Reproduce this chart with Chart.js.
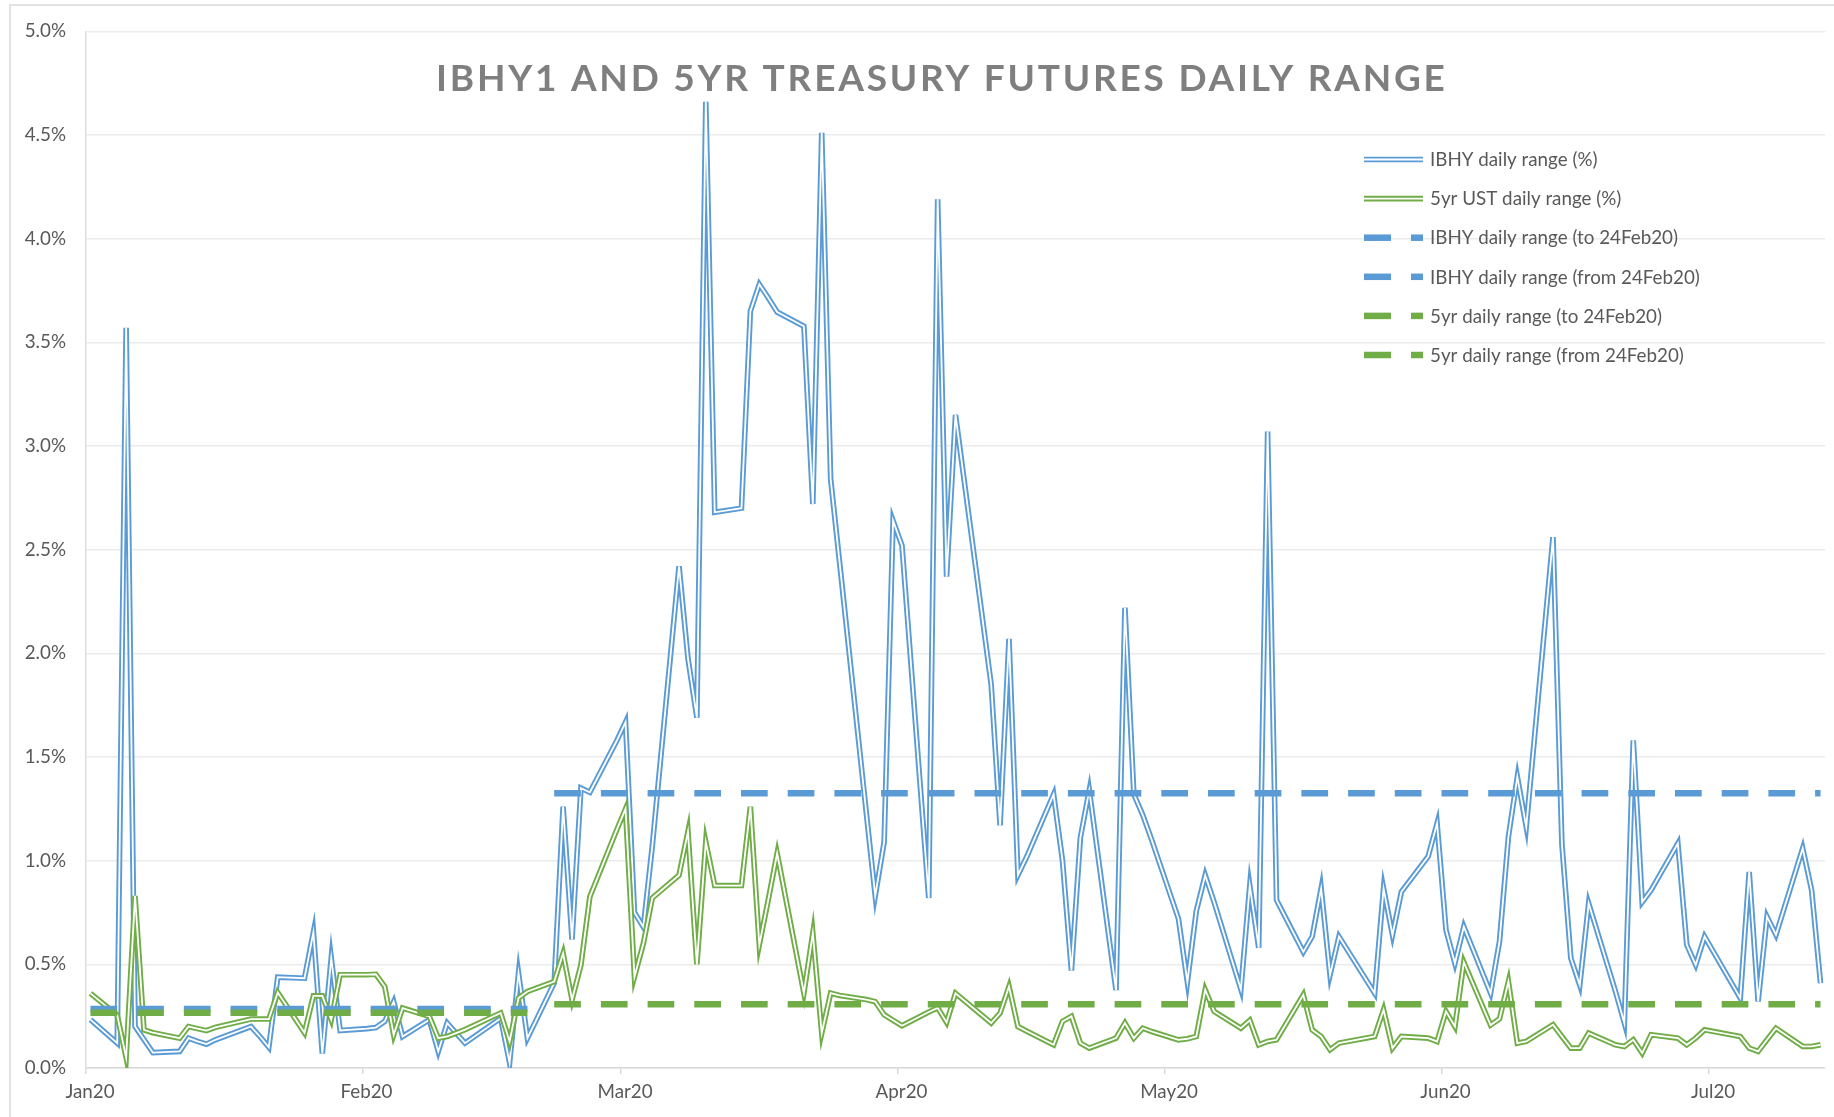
<!DOCTYPE html>
<html>
<head>
<meta charset="utf-8">
<script src="https://cdn.jsdelivr.net/npm/chart.js@4.4.1/dist/chart.umd.min.js"></script>
<style>
html,body{margin:0;padding:0;background:#ffffff;}
#wrap{position:relative;width:1834px;height:1117px;}
canvas{display:block;}
</style>
</head>
<body>
<div id="wrap"><canvas id="c" width="1834" height="1117" style="width:1834px;height:1117px"></canvas></div>
<script>
// ---------------- DATA ----------------
const chartTitle = 'IBHY1 AND 5YR TREASURY FUTURES DAILY RANGE';
const seriesNames = [
  'IBHY daily range (%)',
  '5yr UST daily range (%)',
  'IBHY daily range (to 24Feb20)',
  'IBHY daily range (from 24Feb20)',
  '5yr daily range (to 24Feb20)',
  '5yr daily range (from 24Feb20)'
];
const dates = [
  '2020-01-03','2020-01-06','2020-01-07','2020-01-08','2020-01-09','2020-01-10','2020-01-13','2020-01-14','2020-01-15','2020-01-16',
  '2020-01-17','2020-01-21','2020-01-22','2020-01-23','2020-01-24','2020-01-27','2020-01-28','2020-01-29','2020-01-30','2020-01-31',
  '2020-02-03','2020-02-04','2020-02-05','2020-02-06','2020-02-07','2020-02-10','2020-02-11','2020-02-12','2020-02-13','2020-02-14',
  '2020-02-18','2020-02-19','2020-02-20','2020-02-21','2020-02-24','2020-02-25','2020-02-26','2020-02-27','2020-02-28',
  '2020-03-02','2020-03-03','2020-03-04','2020-03-05','2020-03-06','2020-03-09','2020-03-10','2020-03-11','2020-03-12','2020-03-13',
  '2020-03-16','2020-03-17','2020-03-18','2020-03-19','2020-03-20','2020-03-23','2020-03-24','2020-03-25','2020-03-26','2020-03-27',
  '2020-03-30','2020-03-31',
  '2020-04-01','2020-04-02','2020-04-03','2020-04-06','2020-04-07','2020-04-08','2020-04-09','2020-04-13','2020-04-14','2020-04-15',
  '2020-04-16','2020-04-17','2020-04-20','2020-04-21','2020-04-22','2020-04-23','2020-04-24','2020-04-27','2020-04-28','2020-04-29',
  '2020-04-30',
  '2020-05-01','2020-05-04','2020-05-05','2020-05-06','2020-05-07','2020-05-08','2020-05-11','2020-05-12','2020-05-13','2020-05-14',
  '2020-05-15','2020-05-18','2020-05-19','2020-05-20','2020-05-21','2020-05-22','2020-05-26','2020-05-27','2020-05-28','2020-05-29',
  '2020-06-01','2020-06-02','2020-06-03','2020-06-04','2020-06-05','2020-06-08','2020-06-09','2020-06-10','2020-06-11','2020-06-12',
  '2020-06-15','2020-06-16','2020-06-17','2020-06-18','2020-06-19','2020-06-22','2020-06-23','2020-06-24','2020-06-25','2020-06-26',
  '2020-06-29','2020-06-30',
  '2020-07-01','2020-07-02','2020-07-06','2020-07-07','2020-07-08','2020-07-09','2020-07-10','2020-07-13','2020-07-14','2020-07-15'
];
const ibhyRange = [
  0.233,0.12,3.57,0.20,0.137,0.074,0.08,0.144,0.128,0.115,
  0.136,0.20,0.152,0.10,0.438,0.433,0.655,0.07,0.53,0.181,
  0.19,0.195,0.225,0.32,0.152,0.233,0.08,0.217,0.168,0.12,
  0.24,0.025,0.457,0.144,0.41,1.26,0.62,1.35,1.33,
  1.577,1.668,0.75,0.68,1.07,2.42,1.976,1.69,4.66,2.68,
  2.70,3.65,3.78,3.715,3.646,3.577,2.72,4.51,2.84,2.44,
  1.23,0.83,
  1.09,2.64,2.52,0.82,4.19,2.37,3.15,1.85,1.17,2.07,
  0.93,1.02,1.32,1.0,0.47,1.11,1.34,0.375,2.22,1.32,
  1.22,
  1.10,0.72,0.415,0.757,0.93,0.80,0.38,0.88,0.58,3.07,
  0.81,0.56,0.634,0.866,0.449,0.634,0.361,0.866,0.642,0.85,
  1.02,1.18,0.666,0.505,0.682,0.361,0.61,1.115,1.404,1.163,
  2.56,1.08,0.53,0.40,0.794,0.37,0.217,1.58,0.80,0.858,
  1.083,0.594,
  0.497,0.634,0.337,0.946,0.321,0.73,0.642,1.059,0.858,0.409
];
const ustRange = [
  0.36,0.255,0.05,0.83,0.184,0.17,0.144,0.20,0.19,0.18,
  0.196,0.236,0.236,0.236,0.364,0.17,0.348,0.348,0.233,0.45,
  0.45,0.452,0.393,0.16,0.289,0.249,0.144,0.152,0.168,0.185,
  0.265,0.128,0.337,0.369,0.417,0.553,0.329,0.497,0.826,
  1.147,1.25,0.44,0.60,0.82,0.93,1.14,0.50,1.09,0.88,
  0.88,1.26,0.594,0.81,1.035,0.361,0.65,0.168,0.361,0.35,
  0.33,0.32,
  0.257,0.23,0.204,0.27,0.29,0.22,0.36,0.217,0.265,0.393,
  0.20,0.177,0.112,0.225,0.249,0.12,0.096,0.144,0.217,0.144,
  0.192,
  0.176,0.136,0.141,0.152,0.377,0.273,0.192,0.23,0.112,0.128,
  0.136,0.353,0.184,0.152,0.088,0.12,0.152,0.281,0.096,0.152,
  0.144,0.128,0.273,0.20,0.51,0.207,0.237,0.417,0.12,0.128,
  0.209,0.152,0.096,0.096,0.168,0.112,0.104,0.136,0.072,0.16,
  0.144,0.112,
  0.144,0.184,0.152,0.096,0.08,0.136,0.192,0.104,0.104,0.112
];
// period averages (%), split at 24 Feb 2020
const splitDate = '2020-02-24';
const ibhyAvgTo = 0.284, ibhyAvgFrom = 1.325;
const ustAvgTo = 0.267, ustAvgFrom = 0.308;
// x axis: date axis starting 3 Jan 2020, 195 daily slots, monthly ticks
const axisStartDate = '2020-01-03';
const axisSlots = 195;
const tickDates = ['2020-01-03','2020-02-03','2020-03-03','2020-04-03','2020-05-03','2020-06-03','2020-07-03'];
const tickLabels = ['Jan20','Feb20','Mar20','Apr20','May20','Jun20','Jul20'];
const yMin = 0, yMax = 5, yStep = 0.5;

// ---------------- HELPERS ----------------
function dayNum(s){
  const p = s.split('-').map(Number);
  const a = axisStartDate.split('-').map(Number);
  return (Date.UTC(p[0],p[1]-1,p[2]) - Date.UTC(a[0],a[1]-1,a[2]))/86400000;
}
const slotX = s => dayNum(s) + 0.5;   // points sit in the middle of their day slot
const splitN = dayNum(splitDate);

const BLUE = '#5B9BD5', GREEN = '#70AD47', TXT = '#595959';

const FAM = 'Lato, "Open Sans", "DejaVu Sans", sans-serif';
const mctx = document.createElement('canvas').getContext('2d');
mctx.font = '100px ' + FAM;
const fsz = Math.round(168 / (mctx.measureText(seriesNames[0]).width / 100) * 10) / 10;

function pts(vals){ return dates.map((d,i)=>({x: slotX(d), y: vals[i]})); }
function levelPts(val, before){
  return dates.filter(d => before ? dayNum(d) < splitN : dayNum(d) >= splitN)
              .map(d => ({x: slotX(d), y: val}));
}

const OUTER = 5.6, INNER = 1.8;
const DASH = [26.7, 20];
const datasets = [
  {label: seriesNames[0], data: pts(ibhyRange), borderColor: BLUE, borderWidth: OUTER, doubleLine: true, innerWidth: INNER, order: 6},
  {label: seriesNames[1], data: pts(ustRange), borderColor: GREEN, borderWidth: OUTER, doubleLine: true, innerWidth: INNER, order: 5},
  {label: seriesNames[2], data: levelPts(ibhyAvgTo, true), borderColor: BLUE, borderWidth: 6.5, borderDash: DASH, borderCapStyle: 'butt', order: 4},
  {label: seriesNames[3], data: levelPts(ibhyAvgFrom, false), borderColor: BLUE, borderWidth: 6.5, borderDash: DASH, borderCapStyle: 'butt', order: 3},
  {label: seriesNames[4], data: levelPts(ustAvgTo, true), borderColor: GREEN, borderWidth: 6.5, borderDash: DASH, borderCapStyle: 'butt', order: 2},
  {label: seriesNames[5], data: levelPts(ustAvgFrom, false), borderColor: GREEN, borderWidth: 6.5, borderDash: DASH, borderCapStyle: 'butt', order: 1}
];
datasets.forEach(d => { d.pointRadius = 0; d.tension = 0; d.fill = false; d.borderJoinStyle = 'miter'; });

// ---------------- PLUGINS ----------------
const framePlugin = {
  id: 'frame',
  beforeDraw(chart){
    const ctx = chart.ctx;
    ctx.save();
    ctx.fillStyle = '#ffffff';
    ctx.fillRect(0,0,chart.width,chart.height);
    ctx.strokeStyle = '#d9d9d9';
    ctx.lineWidth = 1.5;
    ctx.beginPath();
    ctx.moveTo(10, chart.height);
    ctx.lineTo(10, 5);
    ctx.lineTo(chart.width, 5);
    ctx.stroke();
    ctx.restore();
  }
};

const doubleLinePlugin = {
  id: 'doubleLine',
  afterDatasetDraw(chart, args){
    const ds = chart.data.datasets[args.index];
    if (!ds.doubleLine) return;
    const ctx = chart.ctx, a = chart.chartArea;
    ctx.save();
    ctx.beginPath();
    ctx.rect(a.left, a.top - 10, a.right - a.left, a.bottom - a.top + 20);
    ctx.clip();
    ctx.beginPath();
    let first = true;
    args.meta.data.forEach(p => {
      if (p.skip) return;
      if (first){ ctx.moveTo(p.x, p.y); first = false; } else ctx.lineTo(p.x, p.y);
    });
    ctx.strokeStyle = '#ffffff';
    ctx.lineWidth = ds.innerWidth;
    ctx.lineJoin = 'miter';
    ctx.stroke();
    ctx.restore();
  }
};

const overlayPlugin = {
  id: 'overlay',
  afterDraw(chart){
    const ctx = chart.ctx;
    // title
    ctx.save();
    ctx.font = 'bold 37px ' + FAM;
    ctx.fillStyle = '#7f7f7f';
    ctx.textAlign = 'left';
    ctx.textBaseline = 'alphabetic';
    ctx.letterSpacing = '0px';
    const w0 = ctx.measureText(chartTitle).width;
    const ls = (1009 - w0) / (chartTitle.length - 1);
    ctx.letterSpacing = ls.toFixed(2) + 'px';
    ctx.fillText(chartTitle, 436, 91);
    ctx.restore();

    // legend
    ctx.save();
    ctx.font = fsz + 'px ' + FAM;
    ctx.textAlign = 'left';
    ctx.textBaseline = 'alphabetic';
    const x0 = 1364, x1 = 1423, tx = 1430;
    datasets.forEach((ds, i) => {
      const y = 159.5 + 39.1 * i;
      if (ds.doubleLine){
        ctx.beginPath(); ctx.moveTo(x0, y); ctx.lineTo(x1, y);
        ctx.strokeStyle = ds.borderColor; ctx.lineWidth = OUTER; ctx.lineCap = 'butt'; ctx.stroke();
        ctx.beginPath(); ctx.moveTo(x0, y); ctx.lineTo(x1, y);
        ctx.strokeStyle = '#ffffff'; ctx.lineWidth = INNER; ctx.stroke();
      } else {
        ctx.fillStyle = ds.borderColor;
        ctx.fillRect(x0, y - 3.25, 27, 6.5);
        ctx.fillRect(x0 + 47, y - 3.25, 12, 6.5);
      }
      ctx.fillStyle = TXT;
      ctx.fillText(ds.label, tx, y + fsz * 0.36);
    });
    ctx.restore();
  }
};

// ---------------- CHART ----------------
Chart.defaults.font.family = FAM;
new Chart(document.getElementById('c'), {
  type: 'line',
  data: { datasets },
  options: {
    responsive: false,
    animation: false,
    devicePixelRatio: 1,
    layout: { padding: { top: 29, right: 9, left: 0, bottom: 0 } },
    plugins: { legend: { display: false }, title: { display: false }, tooltip: { enabled: false } },
    scales: {
      x: {
        type: 'linear', min: 0, max: axisSlots,
        afterBuildTicks: s => { s.ticks = tickDates.map(d => ({ value: dayNum(d) })); },
        afterFit: s => { s.height = 49; },
        ticks: {
          callback: (v, i) => tickLabels[i],
          color: TXT, font: { size: fsz }, padding: 7, maxRotation: 0, autoSkip: false, labelOffset: 4
        },
        grid: { drawOnChartArea: false, drawTicks: true, tickLength: 6, color: '#d9d9d9', lineWidth: 1.5 },
        border: { display: true, color: '#d9d9d9', width: 1.5 }
      },
      y: {
        min: yMin, max: yMax,
        afterFit: s => { s.width = 86; },
        ticks: { stepSize: yStep, callback: v => Number(v).toFixed(1) + '%', color: TXT, font: { size: fsz }, padding: 20 },
        grid: { color: '#ebebeb', lineWidth: 1.5, drawTicks: false },
        border: { display: true, color: '#dedede', width: 1.5 }
      }
    }
  },
  plugins: [framePlugin, doubleLinePlugin, overlayPlugin]
});
</script>
</body>
</html>
